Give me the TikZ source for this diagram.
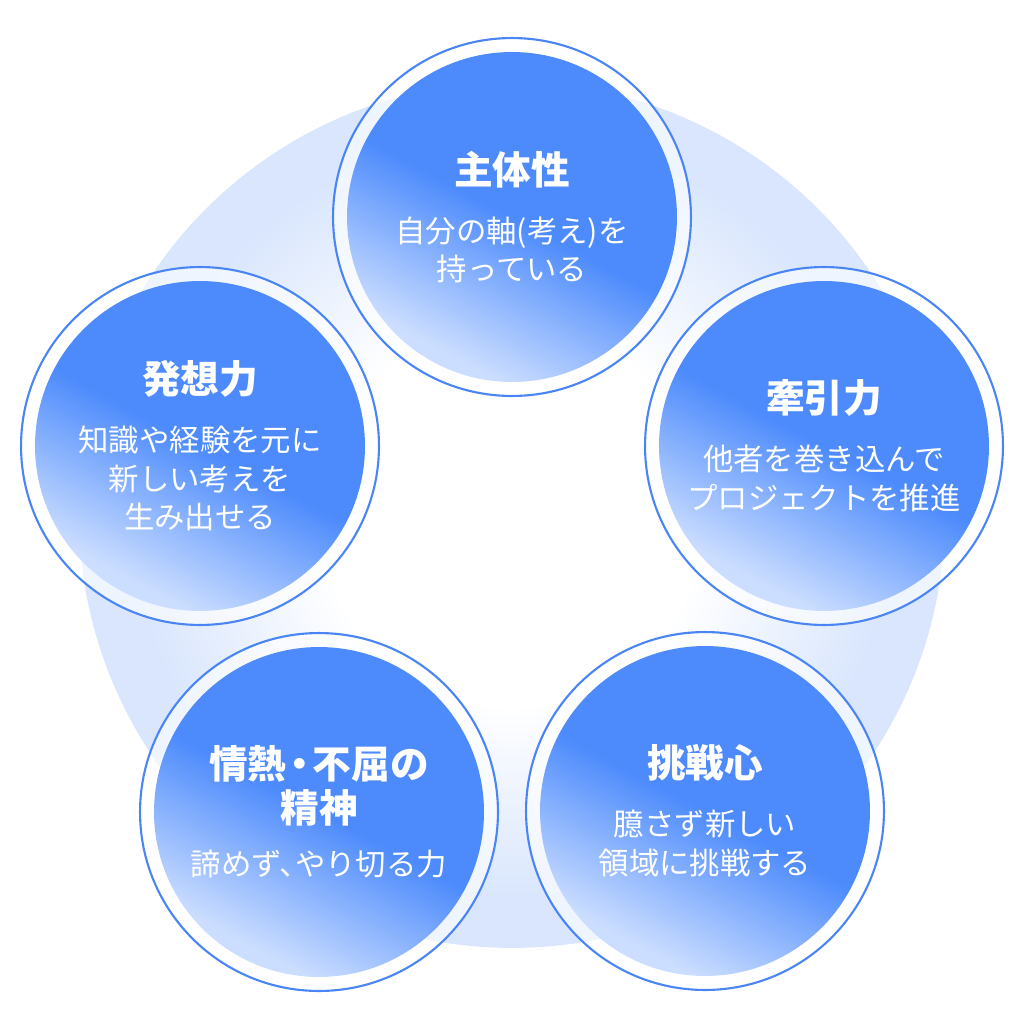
\documentclass[tikz,border=0pt]{standalone}
\usepackage{fontspec}
\usepackage{xcolor}
\usepackage{tikz}
\usetikzlibrary{positioning}
\newfontfamily\jpfont{Noto Sans CJK JP}
\definecolor{coreblue}{HTML}{4D8BFC}
\definecolor{corelight}{HTML}{CCDEFF}
\definecolor{ringline}{HTML}{4A85F6}
\definecolor{bgblue}{HTML}{D9E6FD}
\newcommand\circtitle{\jpfont\bfseries\fontsize{22pt}{26pt}\selectfont}
\newcommand\circtext{\jpfont\fontsize{17.3pt}{22pt}\selectfont}
\pgfdeclareverticalshading{coreshade}{100bp}{color(0bp)=(corelight); color(27bp)=(corelight); color(50bp)=(coreblue); color(100bp)=(coreblue)}
\pgfdeclareradialshading{bgshade}{\pgfpoint{0bp}{0bp}}{color(0bp)=(white); color(11bp)=(white); color(22bp)=(bgblue); color(50bp)=(bgblue)}

\begin{document}
\begin{tikzpicture}[x=0.02cm,y=-0.02cm]

\tikzset{
backdrop/.style={
    circle,
    shading=bgshade,
    minimum size=17.32cm,
    inner sep=0pt
},
ring/.style={
    circle,
    draw=ringline,
    line width=1.2pt,
    fill=white,
    fill opacity=0.6,
    minimum size=7.16cm,
    inner sep=0pt
},
core/.style={
    circle,
    shading=coreshade,
    shading angle=-28,
    minimum size=6.6cm,
    inner sep=0pt
},
txt/.style={
    text=white,
    align=center,
    font=\circtext
}
}

\useasboundingbox (0,0) rectangle (1024,1024);

\node[backdrop] (bg) at (512,515) {};

% the five circles
\node[ring] (shutai) at (512,217) {};
\node[ring] (hasso) at (200,446) {};
\node[ring] (kenin) at (824,446) {};
\node[ring] (jonetsu) at (319,812) {};
\node[ring] (chosen) at (705,811) {};

\node[core] at (shutai) {};
\node[core] at (hasso) {};
\node[core] at (kenin) {};
\node[core] at (jonetsu) {};
\node[core] at (chosen) {};

% texts
\node[txt] (shutai-t) at (shutai) {{\circtitle 主体性}\\[11pt]自分の軸(考え)を\\持っている};
\node[txt] (hasso-t) at (hasso) {{\circtitle 発想力}\\[11pt]知識や経験を元に\\新しい考えを\\生み出せる};
\node[txt] (kenin-t) at (kenin) {{\circtitle 牽引力}\\[11pt]他者を巻き込んで\\プロジェクトを推進};
\node[txt] (jonetsu-t) at (jonetsu) {{\circtitle 情熱\kern-.16em・\kern-.16em 不屈の}\\[3pt]{\circtitle 精神}\\[8pt]諦めず、\kern-.5em やり切る力};
\node[txt] (chosen-t) at (chosen) {{\circtitle 挑戦心}\\[11pt]臆さず新しい\\領域に挑戦する};

\end{tikzpicture}
\end{document}
